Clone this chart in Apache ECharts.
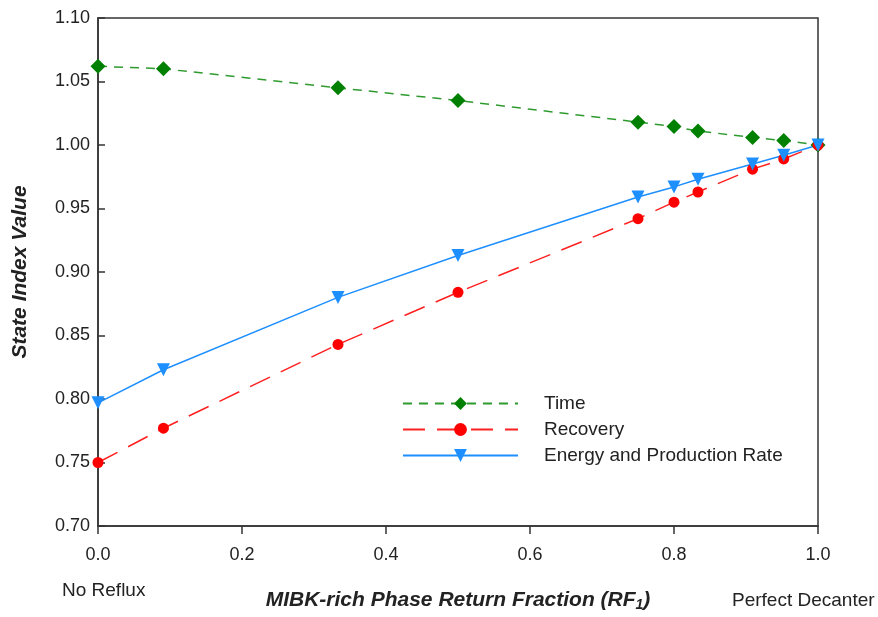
<!DOCTYPE html>
<html>
<head>
<meta charset="utf-8">
<script src="https://cdn.jsdelivr.net/npm/echarts@6/dist/echarts.min.js"></script>
<style>
  html, body { margin: 0; padding: 0; background: #fff; }
  #chart { width: 878px; height: 617px; }
</style>
</head>
<body>
<div id="chart"></div>
<script>
// reflux fraction RF1
const rf = [0, 0.0909, 0.3333, 0.5, 0.75, 0.8, 0.8333, 0.9091, 0.9524, 1.0];
const timeIdx = [1.062, 1.060, 1.045, 1.035, 1.018, 1.0145, 1.011, 1.006, 1.0035, 1.0];
const recoveryIdx = [0.750, 0.777, 0.843, 0.884, 0.942, 0.955, 0.963, 0.981, 0.989, 1.0];
const energyIdx = [0.797, 0.823, 0.880, 0.913, 0.959, 0.967, 0.973, 0.985, 0.992, 1.0];

const FONT = "Liberation Sans, Arial, sans-serif";

function pairs(ys) {
  return rf.map((x, i) => [x, ys[i]]);
}

const chart = echarts.init(document.getElementById("chart"));

chart.setOption({
  animation: false,
  backgroundColor: "#fff",
  textStyle: { fontFamily: FONT },
  grid: { left: 98, right: 60, top: 18, bottom: 89, show: true, borderColor: "#333", borderWidth: 1.5 },
  xAxis: {
    type: "value",
    min: 0,
    max: 1,
    interval: 0.2,
    name: "MIBK-rich Phase Return Fraction (RF{sub|1})",
    nameLocation: "middle",
    nameGap: 62,
    nameTextStyle: {
      fontSize: 21, fontStyle: "italic", fontWeight: "bold", color: "#222",
      rich: { sub: { fontSize: 14, fontStyle: "italic", fontWeight: "bold", color: "#222", verticalAlign: "bottom", padding: [10, 0, 0, 0] } }
    },
    axisLine: { lineStyle: { color: "#333", width: 1.5 } },
    axisTick: { inside: false, length: 8, lineStyle: { color: "#333", width: 1.5 } },
    axisLabel: { fontSize: 18, color: "#222", margin: 20, formatter: (v) => v.toFixed(1) },
    splitLine: { show: false }
  },
  yAxis: {
    type: "value",
    min: 0.7,
    max: 1.1,
    interval: 0.05,
    name: "State Index Value",
    nameLocation: "middle",
    nameGap: 67,
    nameTextStyle: { fontSize: 21, fontStyle: "italic", fontWeight: "bold", color: "#222" },
    axisLine: { lineStyle: { color: "#333", width: 1.5 } },
    axisTick: { inside: true, length: 7, lineStyle: { color: "#333", width: 1.5 } },
    axisLabel: { fontSize: 18, color: "#222", margin: 8, formatter: (v) => v.toFixed(2) },
    splitLine: { show: false }
  },
  legend: {
    orient: "vertical",
    left: 397,
    top: 389,
    itemWidth: 115,
    itemHeight: 16,
    itemGap: 7,
    textStyle: { fontSize: 19, color: "#222", padding: [0, 0, 0, 21] },
    data: ["Time", "Recovery", "Energy and Production Rate"]
  },
  series: [
    {
      name: "Time",
      type: "line",
      data: pairs(timeIdx),
      symbol: "diamond",
      symbolSize: 15,
      itemStyle: { color: "#008000" },
      lineStyle: { color: "#2f9b2f", width: 1.5, type: [9, 7] }
    },
    {
      name: "Recovery",
      type: "line",
      data: pairs(recoveryIdx),
      symbol: "circle",
      symbolSize: 11,
      itemStyle: { color: "#ff0000" },
      lineStyle: { color: "#ff2020", width: 1.5, type: [22, 12] }
    },
    {
      name: "Energy and Production Rate",
      type: "line",
      data: pairs(energyIdx),
      symbol: "triangle",
      symbolRotate: 180,
      symbolSize: 13,
      itemStyle: { color: "#1e8fff" },
      lineStyle: { color: "#1e8fff", width: 1.5 }
    }
  ],
  graphic: [
    { type: "text", left: 62, top: 581, style: { text: "No Reflux", font: "19px " + FONT, fill: "#222" } },
    { type: "text", left: 732, top: 591, style: { text: "Perfect Decanter", font: "19px " + FONT, fill: "#222" } }
  ]
});
</script>
</body>
</html>
